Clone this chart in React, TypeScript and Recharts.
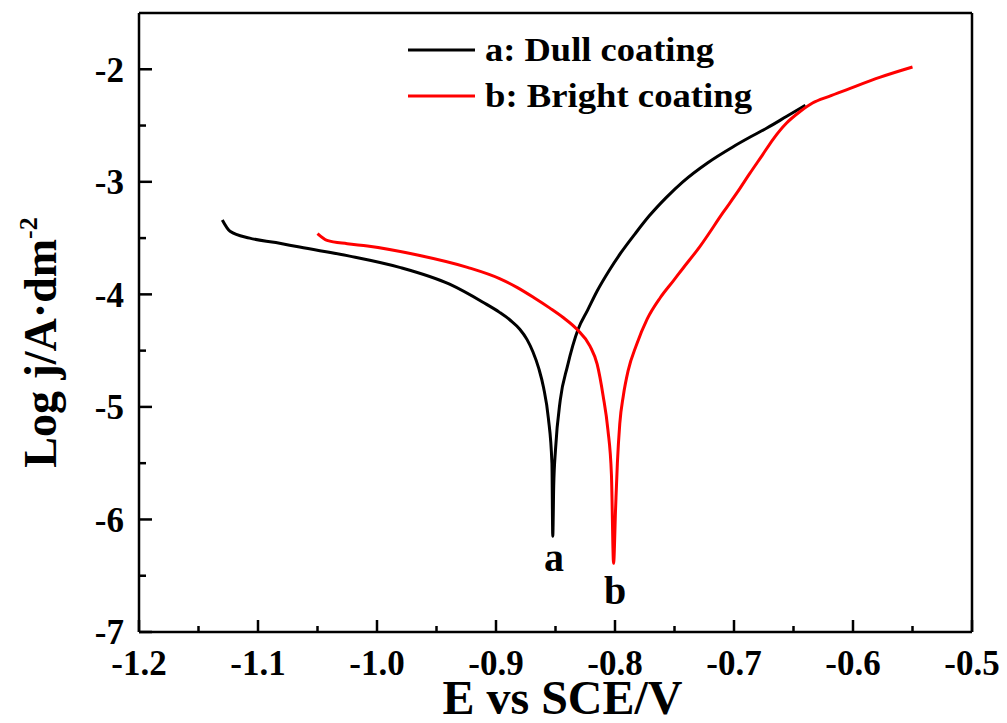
import React from 'react';
import { LineChart, Line, XAxis, YAxis, ReferenceLine, ReferenceDot, Legend } from 'recharts';

// ---- data ----
const dullE = [-1.130, -1.1235, -1.107, -1.085, -1.065, -1.023, -0.981, -0.939, -0.911, -0.897, -0.888, -0.880, -0.874, -0.869, -0.864, -0.860, -0.856, -0.853, -0.8523, -0.8515, -0.850, -0.846, -0.840, -0.831, -0.823, -0.815, -0.805, -0.795, -0.783, -0.771, -0.757, -0.743, -0.722, -0.701, -0.686, -0.672, -0.656, -0.640];
const dullLogJ = [-3.34, -3.44, -3.50, -3.54, -3.58, -3.66, -3.76, -3.91, -4.07, -4.16, -4.23, -4.31, -4.40, -4.51, -4.66, -4.83, -5.10, -5.50, -6.15, -5.70, -5.38, -4.94, -4.64, -4.31, -4.14, -3.97, -3.79, -3.63, -3.46, -3.30, -3.14, -3.00, -2.83, -2.69, -2.60, -2.52, -2.42, -2.32];

const brightE = [-1.050, -1.042, -1.025, -1.008, -0.966, -0.924, -0.897, -0.882, -0.868, -0.855, -0.843, -0.832, -0.821, -0.815, -0.810, -0.806, -0.803, -0.8012, -0.7995, -0.798, -0.796, -0.793, -0.789, -0.782, -0.773, -0.762, -0.751, -0.743, -0.729, -0.709, -0.697, -0.687, -0.676, -0.667, -0.656, -0.645, -0.634, -0.620, -0.605, -0.577, -0.550];
const brightLogJ = [-3.46, -3.52, -3.55, -3.57, -3.65, -3.76, -3.86, -3.94, -4.03, -4.12, -4.21, -4.31, -4.46, -4.62, -4.90, -5.20, -5.60, -6.39, -5.90, -5.50, -5.15, -4.90, -4.68, -4.45, -4.22, -4.03, -3.88, -3.77, -3.58, -3.27, -3.09, -2.93, -2.76, -2.62, -2.48, -2.38, -2.30, -2.24, -2.18, -2.07, -1.98];

const seriesNames = ['a: Dull coating', 'b: Bright coating'];
const seriesColors = ['#000000', '#ff0000'];
const legendTextWidths = [229, 267];

const xMajorTicks = [-1.2, -1.1, -1.0, -0.9, -0.8, -0.7, -0.6, -0.5];
const xMinorTicks = [-1.15, -1.05, -0.95, -0.85, -0.75, -0.65, -0.55];
const xTickLabels = ['-1.2', '-1.1', '-1.0', '-0.9', '-0.8', '-0.7', '-0.6', '-0.5'];
const yMajorTicks = [-7, -6, -5, -4, -3, -2];
const yMinorTicks = [-6.5, -5.5, -4.5, -3.5, -2.5];
const yTickLabels = ['-7', '-6', '-5', '-4', '-3', '-2'];

const curveLetters = ['a', 'b'];
const letterE = [-0.8513, -0.800];
const letterLogJ = [-6.46, -6.75];

const xTitle = 'E vs SCE/V';
const yTitle = 'Log j/A\u00b7dm';
const yTitleSup = '-2';

// ---- built tables ----
const dullData = dullE.map((e, i) => ({ e, j: dullLogJ[i] }));
const brightData = brightE.map((e, i) => ({ e, j: brightLogJ[i] }));
const xTicks = [...xMajorTicks, ...xMinorTicks].sort((a, b) => a - b);
const yTicks = [...yMajorTicks, ...yMinorTicks].sort((a, b) => a - b);

const FONT = "'Liberation Serif', 'Times New Roman', serif";
const X_TICK_MARGIN = 18;
const Y_TICK_MARGIN = 15;
const AXIS_W = 2.5;
const TICK_FS = 35;

const XTick = (props: any) => {
  const { x, y, payload } = props;
  const v = payload.value;
  const i = xMajorTicks.findIndex((m) => Math.abs(m - v) < 1e-6);
  const axisY = y - X_TICK_MARGIN;
  const len = i >= 0 ? 12 : 6;
  return (
    <g>
      <line x1={x} x2={x} y1={axisY} y2={axisY - len} stroke="#000" strokeWidth={AXIS_W} />
      {i >= 0 && (
        <text x={x} y={y} dy="0.71em" textAnchor="middle" fontFamily={FONT} fontWeight="bold" fontSize={TICK_FS} fill="#000">
          {xTickLabels[i]}
        </text>
      )}
    </g>
  );
};

const YTick = (props: any) => {
  const { x, y, payload } = props;
  const v = payload.value;
  const i = yMajorTicks.findIndex((m) => Math.abs(m - v) < 1e-6);
  const axisX = x + Y_TICK_MARGIN;
  const len = i >= 0 ? 13 : 7;
  return (
    <g>
      <line x1={axisX} x2={axisX + len} y1={y} y2={y} stroke="#000" strokeWidth={AXIS_W} />
      {i >= 0 && (
        <text x={x} y={y} dy="0.355em" textAnchor="end" fontFamily={FONT} fontWeight="bold" fontSize={TICK_FS} fill="#000">
          {yTickLabels[i]}
        </text>
      )}
    </g>
  );
};

const XTitle = (props: any) => {
  const vb = props.viewBox;
  return (
    <text x={vb.x + vb.width / 2 + 7} y={vb.y + 82} textAnchor="middle" fontFamily={FONT} fontWeight="bold" fontSize={48} fill="#000">
      {xTitle}
    </text>
  );
};

const YTitle = (props: any) => {
  const vb = props.viewBox;
  const x = vb.x + 7;
  const y = vb.y + vb.height / 2 + 20;
  return (
    <text x={x} y={y} transform={`rotate(-90, ${x}, ${y})`} textAnchor="middle" fontFamily={FONT} fontWeight="bold" fontSize={46} fill="#000">
      {yTitle}
      <tspan fontSize={26} dy={-19}>{yTitleSup}</tspan>
    </text>
  );
};

const LetterLabel = (text: string) => (props: any) => {
  const vb = props.viewBox;
  return (
    <text x={vb.x + (vb.width || 0) / 2} y={vb.y + (vb.height || 0) / 2} textAnchor="middle" fontFamily={FONT} fontWeight="bold" fontSize={40} fill="#000">
      {text}
    </text>
  );
};

const renderLegend = (props: any) => {
  const payload = props.payload || [];
  return (
    <svg width={420} height={112} style={{ display: 'block' }}>
      {payload.map((p: any, i: number) => {
        const ly = 42 + i * 46;
        return (
          <g key={i}>
            <line x1={0} x2={67} y1={ly} y2={ly} stroke={p.color} strokeWidth={3} />
            <text
              x={77}
              y={ly + 11}
              fontFamily={FONT}
              fontWeight="bold"
              fontSize={33}
              fill="#000"
              textLength={legendTextWidths[i]}
              lengthAdjust="spacingAndGlyphs"
            >
              {p.value}
            </text>
          </g>
        );
      })}
    </svg>
  );
};

export default function App() {
  return (
    <LineChart width={999} height={715} margin={{ top: 5, right: 35, bottom: 31, left: 41 }}>
      <XAxis
        dataKey="e"
        type="number"
        domain={[-1.2, -0.5]}
        ticks={xTicks}
        interval={0}
        allowDataOverflow
        height={60}
        stroke="#000"
        strokeWidth={AXIS_W}
        tickLine={false}
        tickSize={0}
        tickMargin={X_TICK_MARGIN}
        tick={<XTick />}
        label={{ content: XTitle }}
      />
      <YAxis
        type="number"
        domain={[-7, -1.5]}
        ticks={yTicks}
        interval={0}
        allowDataOverflow
        width={90}
        stroke="#000"
        strokeWidth={AXIS_W}
        tickLine={false}
        tickSize={0}
        tickMargin={Y_TICK_MARGIN}
        tick={<YTick />}
        label={{ content: YTitle }}
      />
      <ReferenceLine y={-1.5} stroke="#000" strokeWidth={AXIS_W} />
      <ReferenceLine x={-0.5} stroke="#000" strokeWidth={AXIS_W} />
      <Legend
        layout="vertical"
        align="center"
        verticalAlign="middle"
        wrapperStyle={{ top: 0, left: 400, width: 420, height: 112 }}
        content={renderLegend}
      />
      <Line data={dullData} dataKey="j" name={seriesNames[0]} stroke={seriesColors[0]} strokeWidth={3} dot={false} type="monotone" isAnimationActive={false} />
      <Line data={brightData} dataKey="j" name={seriesNames[1]} stroke={seriesColors[1]} strokeWidth={3} dot={false} type="monotone" isAnimationActive={false} />
      {curveLetters.map((t, i) => (
        <ReferenceDot key={t} x={letterE[i]} y={letterLogJ[i]} r={0} fill="none" stroke="none" label={{ content: LetterLabel(t) }} />
      ))}
    </LineChart>
  );
}
